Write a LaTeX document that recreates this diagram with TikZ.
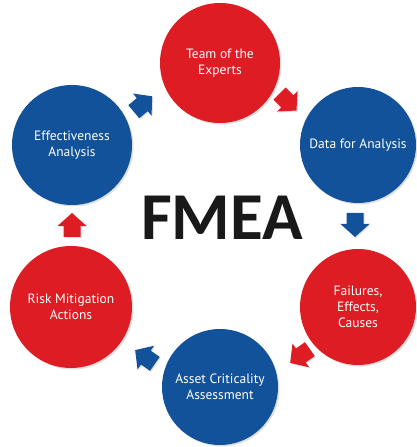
\documentclass[tikz,border=0pt]{standalone}
\usepackage{fontspec}
\setmainfont{PT Sans}
\newfontfamily\titlefont{Carlito}
\usetikzlibrary{shadows}
\definecolor{fred}{RGB}{221,28,36}
\definecolor{fblue}{RGB}{18,82,154}
\tikzset{
  bubble/.style={circle, minimum size=#1, inner sep=0pt, text=white, align=center,
    font=\fontsize{13.5}{16}\selectfont,
    drop shadow={opacity=0.25, shadow xshift=1.5pt, shadow yshift=-1.5pt}},
  redb/.style={bubble=#1, fill=fred},
  blueb/.style={bubble=#1, fill=fblue},
  barrow/.style={drop shadow={opacity=0.25, shadow xshift=1pt, shadow yshift=-1pt}}
}
\newcommand{\blockarrow}[5]{%
  \fill[#4, barrow, shift={(#1,#2)}, rotate=#3, scale=#5]
    (-12,-8.5) -- (-1,-8.5) -- (-1,-14.5) -- (12,0) -- (-1,14.5) -- (-1,8.5) -- (-12,8.5) -- cycle;}
\begin{document}
\begin{tikzpicture}[x=1pt,y=1pt]
\useasboundingbox (0,0) rectangle (416,447);
\fill[white] (0,0) rectangle (416,447);
\node[redb=120pt]  (team)  at (220,384) {Team of the\\Experts};
\node[blueb=116pt] (data)  at (358,302) {Data for Analysis};
\node[redb=116pt]  (fail)  at (358,140) {Failures,\\Effects,\\Causes};
\node[blueb=116pt] (asset) at (220,60)  {Asset Criticality\\Assessment};
\node[redb=122pt]  (risk)  at (71,140)  {Risk Mitigation\\Actions};
\node[blueb=120pt] (eff)   at (72,302)  {Effectiveness\\Analysis};
\node[font=\titlefont\bfseries\fontsize{67}{70}\selectfont, inner sep=0pt,
  text=black!90] (fmea) at (222,229) {FMEA};
\blockarrow{288}{345}{-45}{fred}{1}
\blockarrow{355}{222}{-90}{fblue}{1}
\blockarrow{300}{91}{-145}{fred}{1}
\blockarrow{145}{90}{145}{fblue}{1}
\blockarrow{72}{222}{90}{fred}{1}
\blockarrow{143}{343}{40}{fblue}{1}
\end{tikzpicture}
\end{document}
